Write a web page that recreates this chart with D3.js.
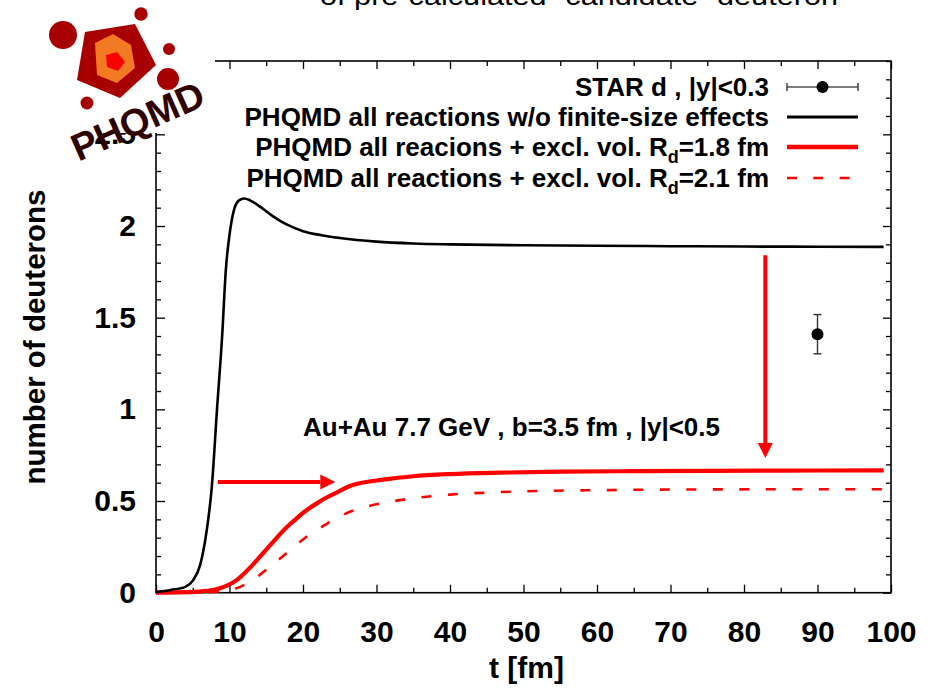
<!DOCTYPE html>
<html><head><meta charset="utf-8">
<script src="https://cdn.jsdelivr.net/npm/d3@7"></script>
<style>
body{margin:0;background:#fff;}
text{font-family:"Liberation Sans",Arial,Helvetica,sans-serif;font-weight:bold;fill:#000;}
</style>
</head><body>
<svg id="chart" width="941" height="689"></svg>
<script>
// ---------- data ----------
const tBlack = [0, 2, 4, 5, 6, 6.9, 7.6, 8.3, 9, 9.5, 10.1, 10.7, 11.3, 12, 12.8, 14, 15.5, 17, 18.5, 20, 22.5, 25, 30, 35, 40, 50, 60, 70, 80, 90, 99];
const nBlack = [0.003, 0.015, 0.032, 0.065, 0.15, 0.34, 0.58, 1.0, 1.40, 1.76, 1.98, 2.10, 2.14, 2.15, 2.14, 2.11, 2.065, 2.025, 1.995, 1.972, 1.95, 1.935, 1.915, 1.905, 1.90, 1.895, 1.892, 1.89, 1.888, 1.887, 1.886];

const tRed18 = [0, 4, 7, 8.7, 10, 11, 12, 13, 14, 15, 16, 17, 18, 19, 20, 21, 22, 23, 24, 25, 26, 27, 28, 30, 32, 35, 40, 47, 55, 65, 75, 85, 99];
const nRed18 = [0, 0.003, 0.01, 0.024, 0.045, 0.07, 0.105, 0.145, 0.19, 0.235, 0.28, 0.325, 0.365, 0.40, 0.435, 0.465, 0.49, 0.515, 0.535, 0.555, 0.575, 0.59, 0.60, 0.612, 0.622, 0.635, 0.647, 0.655, 0.66, 0.663, 0.665, 0.666, 0.667];

const tRed21 = [0, 5, 8, 10, 11, 12, 13, 14, 15, 16, 17, 18, 19, 20, 21, 22, 23, 24, 25, 26, 27, 29, 32, 35, 40, 45, 50, 60, 72, 85, 99];
const nRed21 = [0, 0.002, 0.006, 0.013, 0.025, 0.043, 0.065, 0.093, 0.125, 0.158, 0.19, 0.225, 0.258, 0.29, 0.32, 0.345, 0.37, 0.395, 0.415, 0.435, 0.45, 0.473, 0.497, 0.515, 0.535, 0.546, 0.553, 0.559, 0.563, 0.564, 0.564];

const starT = [90];
const starN = [1.41];
const starErr = [0.107];

const xTicks = [0, 10, 20, 30, 40, 50, 60, 70, 80, 90, 100];
const yTicks = [0, 0.5, 1, 1.5, 2, 2.5];

const legendLabels = [
  ["STAR d , |y|<0.3"],
  ["PHQMD all reactions w/o finite-size effects"],
  ["PHQMD all reacions + excl. vol. R", "d", "=1.8 fm"],
  ["PHQMD all reactions + excl. vol. R", "d", "=2.1 fm"]
];
const annotation = "Au+Au 7.7 GeV , b=3.5 fm , |y|<0.5";
const topText = "of pre-calculated \u201Ccandidate\u201D deuteron";
// arrows in data units: [t0, n0, t1, n1]
const arrowH = [8.4, 0.604, 24.4, 0.604];
const arrowV = [82.9, 1.84, 82.9, 0.735];

// ---------- layout ----------
const svg = d3.select("#chart");
const L = 156, R = 891, T = 61, B = 592.7;
const x = d3.scaleLinear().domain([0, 100]).range([L, R]);
const y = d3.scaleLinear().domain([0, 2.9]).range([B, T]);
const FONT = "'Liberation Sans',Arial,sans-serif";

// cut-off title at top
svg.append("text").attr("x", 320).attr("y", 5).attr("textLength", 518)
  .attr("lengthAdjust", "spacingAndGlyphs")
  .style("font-size", "26px").style("font-weight", "normal").text(topText);

// axes
const range = (a, b, s) => d3.range(a, b + 1e-9, s).map(v => +v.toFixed(3));
const xMinor = range(0, 100, 5).filter(v => v % 10 !== 0);
const yMinor = range(0, 2.9, 0.1).filter(v => Math.abs(v / 0.5 - Math.round(v / 0.5)) > 1e-6);

function styleAxis(g) {
  g.select(".domain").remove();
  g.selectAll("line").attr("stroke", "#000").attr("stroke-width", 1.3);
}
const fmtY = d => d3.format("~g")(d);

svg.append("g").attr("transform", `translate(0,${B})`)
  .call(d3.axisBottom(x).tickValues(xTicks).tickSize(-8).tickPadding(28))
  .call(styleAxis).selectAll("text").style("font-size", "30px")
  .style("font-family", FONT).style("font-weight", "bold");
svg.append("g").attr("transform", `translate(0,${B})`)
  .call(d3.axisBottom(x).tickValues(xMinor).tickSize(-5).tickFormat(""))
  .call(styleAxis);
svg.append("g").attr("transform", `translate(0,${T})`)
  .call(d3.axisTop(x).tickValues(xTicks).tickSize(-8).tickFormat(""))
  .call(styleAxis);
svg.append("g").attr("transform", `translate(0,${T})`)
  .call(d3.axisTop(x).tickValues(xMinor).tickSize(-5).tickFormat(""))
  .call(styleAxis);

svg.append("g").attr("transform", `translate(${L},0)`)
  .call(d3.axisLeft(y).tickValues(yTicks).tickSize(-9).tickPadding(20).tickFormat(fmtY))
  .call(styleAxis).selectAll("text").style("font-size", "30px")
  .style("font-family", FONT).style("font-weight", "bold");
svg.append("g").attr("transform", `translate(${L},0)`)
  .call(d3.axisLeft(y).tickValues(yMinor).tickSize(-5).tickFormat(""))
  .call(styleAxis);
svg.append("g").attr("transform", `translate(${R},0)`)
  .call(d3.axisRight(y).tickValues(yTicks).tickSize(-8).tickFormat(""))
  .call(styleAxis);
svg.append("g").attr("transform", `translate(${R},0)`)
  .call(d3.axisRight(y).tickValues(yMinor).tickSize(-5).tickFormat(""))
  .call(styleAxis);

// frame
svg.append("rect").attr("x", L).attr("y", T).attr("width", R - L).attr("height", B - T)
  .attr("fill", "none").attr("stroke", "#000").attr("stroke-width", 1.6);

// axis titles
svg.append("text").attr("x", (L + R) / 2 + 3).attr("y", 678).attr("text-anchor", "middle")
  .style("font-size", "30px").text("t [fm]");
svg.append("text").attr("transform", "translate(45,337) rotate(-90)").attr("text-anchor", "middle")
  .style("font-size", "29.5px").text("number of deuterons");

// curves
const line = d3.line().x(d => x(d[0])).y(d => y(d[1])).curve(d3.curveMonotoneX);
const zip = (a, b) => a.map((v, i) => [v, b[i]]);
svg.append("path").datum(zip(tRed21, nRed21)).attr("d", line)
  .attr("fill", "none").attr("stroke", "#ff0000").attr("stroke-width", 2.6)
  .attr("stroke-dasharray", "10,16.5");
svg.append("path").datum(zip(tRed18, nRed18)).attr("d", line)
  .attr("fill", "none").attr("stroke", "#ff0000").attr("stroke-width", 4.2);
svg.append("path").datum(zip(tBlack, nBlack)).attr("d", line)
  .attr("fill", "none").attr("stroke", "#000").attr("stroke-width", 2.6);

// arrows
function arrow(a) {
  const x0 = x(a[0]), y0 = y(a[1]), x1 = x(a[2]), y1 = y(a[3]);
  const ang = Math.atan2(y1 - y0, x1 - x0), hl = 15, hw = 7.5;
  const bx = x1 - hl * Math.cos(ang), by = y1 - hl * Math.sin(ang);
  svg.append("line").attr("x1", x0).attr("y1", y0).attr("x2", bx).attr("y2", by)
    .attr("stroke", "#ff0000").attr("stroke-width", 4);
  const px = -Math.sin(ang) * hw, py = Math.cos(ang) * hw;
  svg.append("path").attr("d", `M${x1},${y1}L${bx + px},${by + py}L${bx - px},${by - py}Z`)
    .attr("fill", "#ff0000");
}
arrow(arrowH);
arrow(arrowV);

// STAR point
starT.forEach((t, i) => {
  const cx = x(t);
  const yt = y(starN[i] + starErr[i]), yb = y(starN[i] - starErr[i]);
  svg.append("line").attr("x1", cx).attr("x2", cx).attr("y1", yt).attr("y2", yb).attr("stroke", "#333").attr("stroke-width", 1.4);
  [yt, yb].forEach(yy => svg.append("line").attr("x1", cx - 4).attr("x2", cx + 4).attr("y1", yy).attr("y2", yy).attr("stroke", "#333").attr("stroke-width", 1.4));
  svg.append("circle").attr("cx", cx).attr("cy", y(starN[i])).attr("r", 6).attr("fill", "#000");
});

// annotation
svg.append("text").attr("x", 303).attr("y", 436).style("font-size", "26px").text(annotation);

// legend
const legY = [87, 117, 147, 178];
const lx0 = 787, lx1 = 858, ltx = 769;
legendLabels.forEach((parts, i) => {
  const t = svg.append("text").attr("x", ltx).attr("y", legY[i] + 9).attr("text-anchor", "end")
    .style("font-size", "26px");
  t.append("tspan").text(parts[0]);
  if (parts.length > 1) {
    t.append("tspan").attr("dy", 7).style("font-size", "18px").text(parts[1]);
    t.append("tspan").attr("dy", -7).text(parts[2]);
  }
});
// legend samples
svg.append("line").attr("x1", lx0).attr("x2", lx1).attr("y1", legY[0]).attr("y2", legY[0]).attr("stroke", "#555").attr("stroke-width", 1.4);
[lx0, lx1].forEach(xx => svg.append("line").attr("x1", xx).attr("x2", xx).attr("y1", legY[0] - 4).attr("y2", legY[0] + 4).attr("stroke", "#333").attr("stroke-width", 1.4));
svg.append("circle").attr("cx", (lx0 + lx1) / 2).attr("cy", legY[0]).attr("r", 6).attr("fill", "#000");
svg.append("line").attr("x1", lx0).attr("x2", lx1).attr("y1", legY[1]).attr("y2", legY[1]).attr("stroke", "#000").attr("stroke-width", 2.8);
svg.append("line").attr("x1", lx0).attr("x2", lx1).attr("y1", legY[2]).attr("y2", legY[2]).attr("stroke", "#ff0000").attr("stroke-width", 4.3);
svg.append("line").attr("x1", lx0).attr("x2", lx1).attr("y1", legY[3]).attr("y2", legY[3]).attr("stroke", "#ff0000").attr("stroke-width", 2.6).attr("stroke-dasharray", "10,16.3");

// PHQMD logo
const logo = svg.append("g");
logo.append("rect").attr("x", 40).attr("y", 8).attr("width", 175).attr("height", 125).attr("fill", "#fff");
[[63, 35, 14], [141, 14, 6.7], [169, 49, 6], [168, 79, 11], [87, 103, 6.5]].forEach(c =>
  logo.append("circle").attr("cx", c[0]).attr("cy", c[1]).attr("r", c[2]).attr("fill", "#a80000"));
logo.append("polygon").attr("points", "85,32 135,24 156,65 120,98 77,80").attr("fill", "#a80000");
logo.append("polygon").attr("points", "95,43 113,34 131,45 135,68 117,83 97,75").attr("fill", "#f37a22");
logo.append("polygon").attr("points", "106,55 117,52 125,62 118,71 107,67").attr("fill", "#ff0000");
logo.append("text").attr("transform", "translate(143,133) rotate(-24)").attr("text-anchor", "middle")
  .style("font-size", "38px").style("fill", "#2e0000").text("PHQMD");
</script>
</body></html>
